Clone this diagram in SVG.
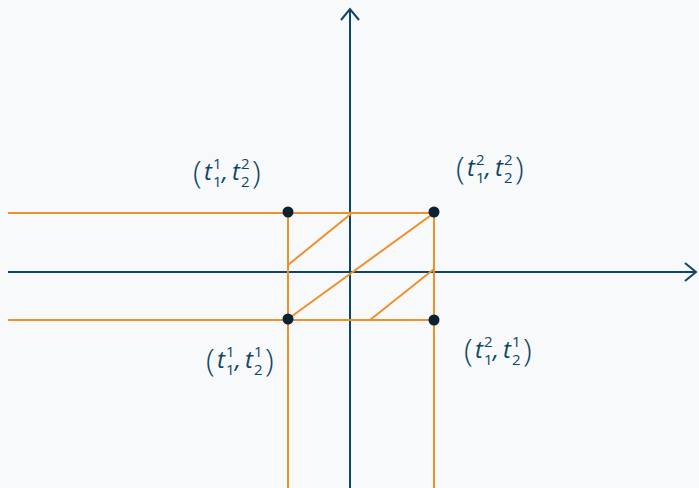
<svg xmlns="http://www.w3.org/2000/svg" width="699" height="488" viewBox="0 0 699 488">
<style>
.ax{stroke:#0e4766;stroke-width:2;fill:none}
.or{stroke:#f0902a;stroke-width:2;fill:none}
.pt{fill:#0b2233}
text{font-family:"Open Sans","Noto Sans",sans-serif;fill:#0e4766}
.t{font-style:italic;font-size:24px}
.s{font-size:15px}
.p{font-size:32px;font-weight:300}
</style>
<rect width="699" height="488" fill="#f8f9fa"/>
<g id="connectors">
<line class="ax" x1="350" y1="488" x2="350" y2="9"/>
<polyline class="ax" points="341,20 350,9 359,20"/>
<line class="ax" x1="8" y1="272" x2="696" y2="272"/>
<polyline class="ax" points="685,263 696,272 685,281"/>
<line class="or" x1="8" y1="213" x2="434" y2="213"/>
<line class="or" x1="8" y1="320" x2="434" y2="320"/>
<line class="or" x1="288" y1="213" x2="288" y2="488"/>
<line class="or" x1="434" y1="213" x2="434" y2="488"/>
<line class="or" x1="288" y1="265" x2="352" y2="213"/>
<line class="or" x1="288" y1="319" x2="434" y2="213"/>
<line class="or" x1="370" y1="320" x2="434" y2="269"/>
</g>
<g id="p11">
<circle class="pt" cx="288" cy="319" r="5.5"/>
<text x="206" y="368"><tspan class="p" y="371">(</tspan><tspan class="t" x="217" y="368">t</tspan><tspan class="s" x="226" y="357">1</tspan><tspan class="s" x="226" y="375">1</tspan><tspan class="t" x="235" y="368">,</tspan><tspan class="t" x="245" y="368">t</tspan><tspan class="s" x="254" y="357">1</tspan><tspan class="s" x="254" y="375">2</tspan><tspan class="p" x="265" y="371">)</tspan></text>
</g>
<g id="p12">
<circle class="pt" cx="288" cy="212" r="5.5"/>
<text x="193" y="180"><tspan class="p" y="183">(</tspan><tspan class="t" x="204" y="180">t</tspan><tspan class="s" x="213" y="169">1</tspan><tspan class="s" x="213" y="187">1</tspan><tspan class="t" x="222" y="180">,</tspan><tspan class="t" x="232" y="180">t</tspan><tspan class="s" x="241" y="169">2</tspan><tspan class="s" x="241" y="187">2</tspan><tspan class="p" x="252" y="183">)</tspan></text>
</g>
<g id="p22">
<circle class="pt" cx="434" cy="212" r="5.5"/>
<text x="456" y="176"><tspan class="p" y="179">(</tspan><tspan class="t" x="467" y="176">t</tspan><tspan class="s" x="476" y="165">2</tspan><tspan class="s" x="476" y="183">1</tspan><tspan class="t" x="485" y="176">,</tspan><tspan class="t" x="495" y="176">t</tspan><tspan class="s" x="504" y="165">2</tspan><tspan class="s" x="504" y="183">2</tspan><tspan class="p" x="515" y="179">)</tspan></text>
</g>
<g id="p21">
<circle class="pt" cx="434" cy="320" r="5.5"/>
<text x="464" y="358"><tspan class="p" y="361">(</tspan><tspan class="t" x="475" y="358">t</tspan><tspan class="s" x="484" y="347">2</tspan><tspan class="s" x="484" y="365">1</tspan><tspan class="t" x="493" y="358">,</tspan><tspan class="t" x="503" y="358">t</tspan><tspan class="s" x="512" y="347">1</tspan><tspan class="s" x="512" y="365">2</tspan><tspan class="p" x="523" y="361">)</tspan></text>
</g>
</svg>
